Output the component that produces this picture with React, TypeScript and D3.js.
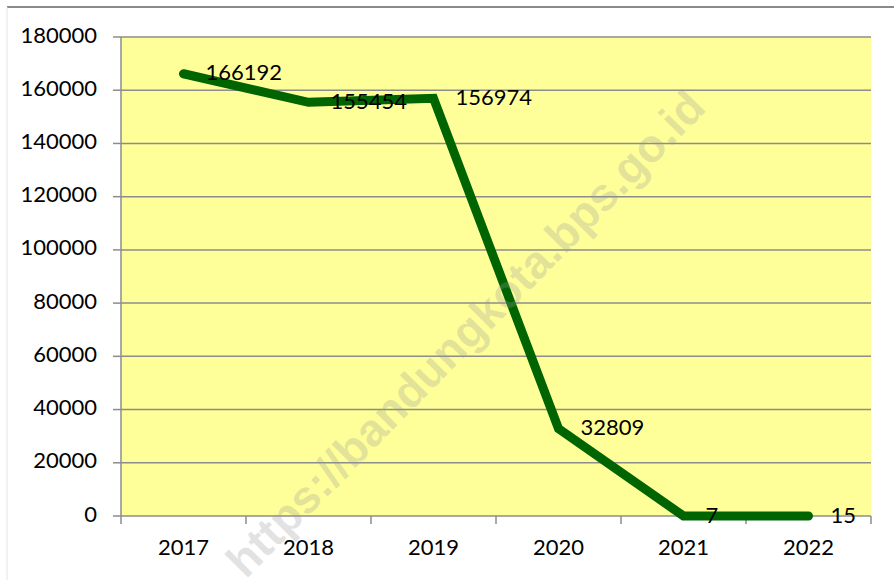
import * as d3 from "d3";

const years = ["2017", "2018", "2019", "2020", "2021", "2022"];
const values = [166192, 155454, 156974, 32809, 7, 15];
const yTickValues = [0, 20000, 40000, 60000, 80000, 100000, 120000, 140000, 160000, 180000];

const width = 894;
const height = 580;
const margin = { top: 37, right: 23, bottom: 64, left: 121 };
const font = "Lato, 'Open Sans', sans-serif";
const gridColor = "#8c8c8c";

export default function App() {
  const innerW = width - margin.left - margin.right;
  const innerH = height - margin.top - margin.bottom;

  const xScale = d3.scaleBand<string>().domain(years).range([0, innerW]).padding(0);
  const yScale = d3.scaleLinear().domain([0, 180000]).range([innerH, 0]);

  const cx = (y: string) => (xScale(y) ?? 0) + xScale.bandwidth() / 2;

  const line = d3
    .line<number>()
    .x((d, i) => cx(years[i]))
    .y((d) => yScale(d));

  return (
    <svg
      width={width}
      height={height}
      style={{ position: "absolute", left: 0, top: 0, background: "#fff" }}
      fontFamily={font}
    >
      {/* outer frame */}
      <line x1={7} y1={7} x2={width} y2={7} stroke="#8a8a8a" strokeWidth={2} />
      <line x1={7} y1={7} x2={7} y2={height} stroke="#e4e4e4" strokeWidth={1} />

      <g transform={`translate(${margin.left},${margin.top})`}>
        <rect x={0} y={0} width={innerW} height={innerH} fill="#ffff99" />
        {yTickValues.map((t) => (
          <g key={t} transform={`translate(0,${yScale(t)})`}>
            {t > 0 && <line x1={0} x2={innerW} stroke={gridColor} strokeWidth={1.5} />}
            <line x1={-8} x2={0} stroke={gridColor} strokeWidth={1.5} />
            <text x={-24} fontSize={22} textAnchor="end" dominantBaseline="middle" fill="#000">
              {t}
            </text>
          </g>
        ))}
        {/* axes */}
        <line x1={0} y1={0} x2={0} y2={innerH} stroke={gridColor} strokeWidth={1.5} />
        <line x1={0} y1={innerH} x2={innerW} y2={innerH} stroke={gridColor} strokeWidth={1.5} />
        {years.concat(["end"]).map((y, i) => {
          const x = i * xScale.bandwidth();
          return (
            <line key={y} x1={x} x2={x} y1={innerH} y2={innerH + 8} stroke={gridColor} strokeWidth={1.5} />
          );
        })}
        {years.map((y) => (
          <text
            key={y}
            x={cx(y)}
            y={innerH + 33}
            fontSize={22}
            textAnchor="middle"
            dominantBaseline="middle"
            fill="#000"
          >
            {y}
          </text>
        ))}

        <path
          d={line(values) ?? ""}
          fill="none"
          stroke="#006400"
          strokeWidth={9}
          strokeLinecap="round"
          strokeLinejoin="miter"
        />
        {values.map((v, i) => (
          <text
            key={i}
            x={cx(years[i]) + 22}
            y={yScale(v) + 1}
            fontSize={22}
            dominantBaseline="middle"
            fill="#000"
          >
            {v}
          </text>
        ))}
      </g>

      {/* watermark */}
      <text
        transform="translate(468,336) rotate(-45.5)"
        textAnchor="middle"
        dominantBaseline="middle"
        fontFamily="'Liberation Sans', Arial, sans-serif"
        fontWeight="bold"
        fontSize={46}
        fill="#999"
        fillOpacity={0.28}
      >
        https://bandungkota.bps.go.id
      </text>
    </svg>
  );
}
